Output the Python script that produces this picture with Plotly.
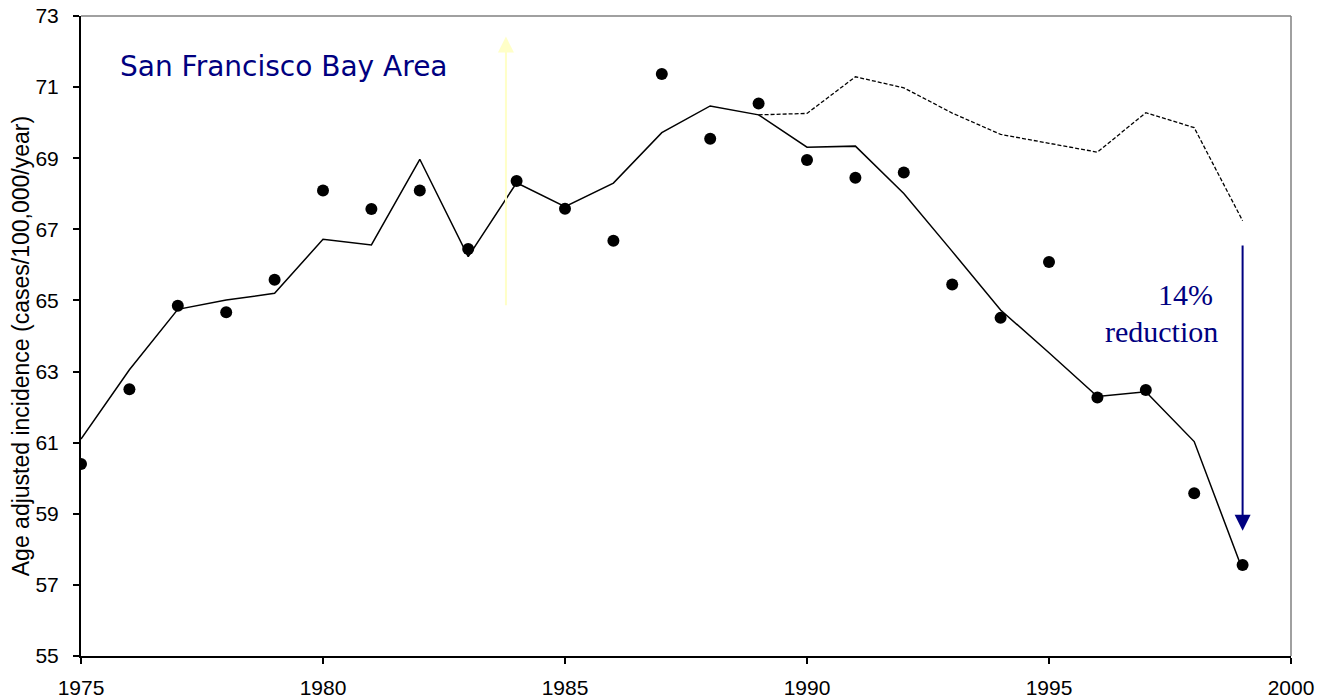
import plotly.graph_objects as go

years = list(range(1975, 2000))
observed = [60.4, 62.5, 64.85, 64.67, 65.58, 68.09, 67.57, 68.09, 66.45, 68.36,
            67.58, 66.68, 71.37, 69.55, 70.54, 68.95, 68.45, 68.6, 65.45, 64.51,
            66.08, 62.27, 62.48, 59.58, 57.56]
smoothed = [61.1, 63.05, 64.75, 65.01, 65.2, 66.72, 66.56, 68.97, 66.23, 68.31,
            67.64, 68.3, 69.72, 70.47, 70.22, 69.31, 69.34, 68.01, 66.38, 64.73,
            63.53, 62.3, 62.43, 61.03, 57.42]
proj_years = list(range(1989, 2000))
projected = [70.22, 70.26, 71.29, 70.98, 70.27, 69.67, 69.42, 69.17, 70.28, 69.86, 67.24]

x_ticks = [1975, 1980, 1985, 1990, 1995, 2000]
y_ticks = [55, 57, 59, 61, 63, 65, 67, 69, 71, 73]

navy = "#000080"

fig = go.Figure()
fig.add_trace(go.Scatter(x=proj_years, y=projected, mode="lines",
                         line=dict(color="black", width=1.3, dash="4px,2px"),
                         showlegend=False, hoverinfo="skip"))
fig.add_trace(go.Scatter(x=years, y=smoothed, mode="lines",
                         line=dict(color="black", width=1.5),
                         showlegend=False))
fig.add_trace(go.Scatter(x=years, y=observed, mode="markers",
                         marker=dict(color="black", size=12),
                         showlegend=False))

# yellow arrow
fig.add_annotation(x=1983.78, y=72.42, ax=1983.78, ay=64.82, xref="x", yref="y",
                   axref="x", ayref="y", text="", showarrow=True,
                   arrowhead=2, arrowsize=1.6, arrowwidth=2, arrowcolor="#FFFFC8")
# navy arrow
fig.add_annotation(x=1999, y=58.52, ax=1999, ay=66.59, xref="x", yref="y",
                   axref="x", ayref="y", text="", showarrow=True,
                   arrowhead=2, arrowsize=1.6, arrowwidth=2, arrowcolor=navy)

fig.add_annotation(x=1997.81, y=65.18, xref="x", yref="y", text="14%", showarrow=False,
                   font=dict(family="Liberation Serif", size=30, color=navy))
fig.add_annotation(x=1997.32, y=64.13, xref="x", yref="y", text="reduction", showarrow=False,
                   font=dict(family="Liberation Serif", size=30, color=navy))
fig.add_annotation(x=1979.2, y=71.57, xref="x", yref="y", text="San Francisco Bay Area",
                   showarrow=False,
                   font=dict(family="DejaVu Sans", size=28, color=navy))

# y-axis title
fig.add_annotation(x=-0.0496, y=0.484, xref="paper", yref="paper",
                   xanchor="center", yanchor="middle",
                   text="Age adjusted incidence (cases/100,000/year)", textangle=-90,
                   showarrow=False, font=dict(family="Liberation Sans", size=23, color="black"))

# top and right grey frame
fig.add_shape(type="line", xref="paper", yref="paper", x0=0, x1=1, y0=1, y1=1,
              line=dict(color="#808080", width=1.5))
fig.add_shape(type="line", xref="paper", yref="paper", x0=1, x1=1, y0=0, y1=1,
              line=dict(color="#808080", width=1.5))

fig.update_layout(
    width=1326, height=700,
    margin=dict(l=81, r=35, t=16, b=44, autoexpand=False),
    plot_bgcolor="white", paper_bgcolor="white",
    font=dict(family="Liberation Sans", size=21, color="black"),
    xaxis=dict(range=[1975, 2000], tickvals=x_ticks, ticks="outside", ticklen=6,
               tickwidth=1.5, tickcolor="black", showline=True, linecolor="black",
               linewidth=2, showgrid=False, zeroline=False, ticklabelstandoff=6,
               automargin=False),
    yaxis=dict(range=[55, 73], tickvals=y_ticks, ticks="outside", ticklen=6,
               tickwidth=1.5, tickcolor="black", showline=True, linecolor="black",
               linewidth=2, showgrid=False, zeroline=False, ticklabelstandoff=10,
               automargin=False),
)

fig.write_html("out.html", config={"displayModeBar": False},
               post_script="document.body.style.margin='0';")
